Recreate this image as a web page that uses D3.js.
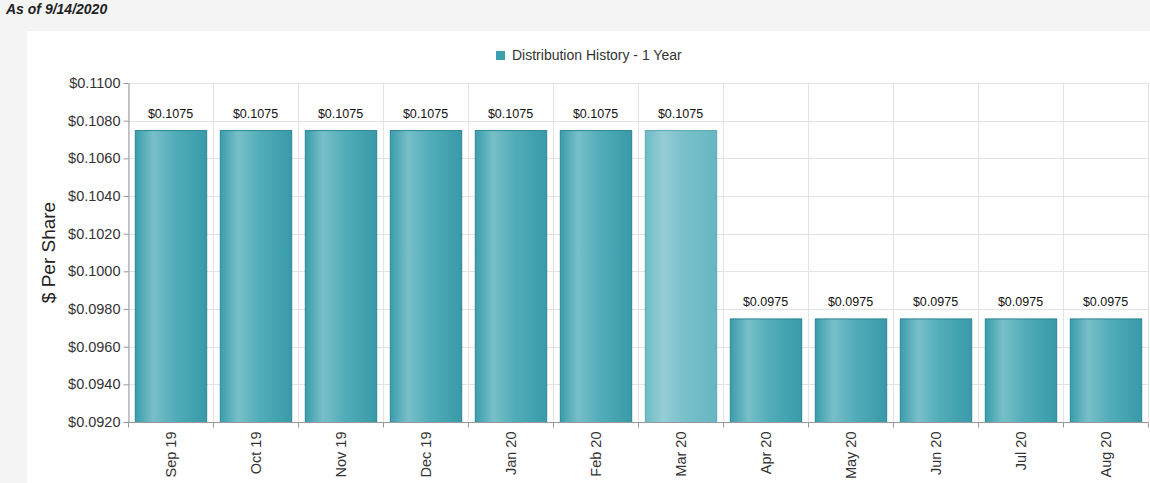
<!DOCTYPE html>
<html>
<head>
<meta charset="utf-8">
<script src="https://cdn.jsdelivr.net/npm/d3@7"></script>
<style>
  body { margin: 0; background: #f4f4f4; font-family: Arial, "Liberation Sans", sans-serif; }
  #title { position: absolute; left: 6px; top: 1px; font-size: 14px; font-weight: bold; font-style: italic; color: #222; }
  #chart { position: absolute; left: 27px; top: 31px; width: 1123px; height: 452px; background: #fff; }
</style>
</head>
<body>
<div id="title">As of 9/14/2020</div>
<div id="chart"></div>
<script>
// Data
var months = ["Sep 19", "Oct 19", "Nov 19", "Dec 19", "Jan 20", "Feb 20", "Mar 20", "Apr 20", "May 20", "Jun 20", "Jul 20", "Aug 20"];
var distribution = [0.1075, 0.1075, 0.1075, 0.1075, 0.1075, 0.1075, 0.1075, 0.0975, 0.0975, 0.0975, 0.0975, 0.0975];
var yTicks = [0.0920, 0.0940, 0.0960, 0.0980, 0.1000, 0.1020, 0.1040, 0.1060, 0.1080, 0.1100];
var highlighted = "Mar 20";

var width = 1123, height = 452;
var margin = {top: 52, right: 2, bottom: 61, left: 101};

var svg = d3.select("#chart").append("svg")
    .attr("width", width)
    .attr("height", height);

// gradients for the cylinder look
var defs = svg.append("defs");
function addGradient(id, stops) {
    var g = defs.append("linearGradient").attr("id", id)
        .attr("x1", "0%").attr("x2", "100%").attr("y1", "0%").attr("y2", "0%");
    stops.forEach(function(s) {
        g.append("stop").attr("offset", s[0]).attr("stop-color", s[1]);
    });
}
addGradient("barGrad", [["0%", "#3a9dac"], ["25%", "#78bfc8"], ["55%", "#52adb9"], ["100%", "#389aa9"]]);
addGradient("barGradHi", [["0%", "#6cbbc6"], ["25%", "#96cdd5"], ["55%", "#78c0ca"], ["100%", "#66b7c2"]]);

var x = d3.scaleBand()
    .domain(months)
    .range([margin.left, width - margin.right])
    .paddingInner(0.16)
    .paddingOuter(0.08);

var y = d3.scaleLinear()
    .domain([0.0920, 0.1100])
    .range([height - margin.bottom, margin.top]);

var fmt = function(d) { return "$" + d3.format(".4f")(d); };

// grid
var step = x.step();
var edges = months.map(function(m) { return x(m) - x.paddingOuter() * step; });
edges.push(width - margin.right);

svg.append("g").selectAll("line.h")
    .data(yTicks)
  .enter().append("line")
    .attr("x1", margin.left).attr("x2", width - margin.right)
    .attr("y1", function(d) { return Math.round(y(d)) + 0.5; })
    .attr("y2", function(d) { return Math.round(y(d)) + 0.5; })
    .attr("stroke", "#e3e3e3");

svg.append("g").selectAll("line.v")
    .data(edges)
  .enter().append("line")
    .attr("x1", function(d) { return Math.round(d) + 0.5; })
    .attr("x2", function(d) { return Math.round(d) + 0.5; })
    .attr("y1", margin.top).attr("y2", height - margin.bottom)
    .attr("stroke", "#e3e3e3");

// y axis
var yAxis = svg.append("g")
    .attr("transform", "translate(" + (margin.left + 0.5) + ",0)")
    .call(d3.axisLeft(y).tickValues(yTicks).tickFormat(fmt).tickSize(5).tickSizeOuter(0));
yAxis.select(".domain").attr("stroke", "#999");
yAxis.selectAll(".tick line").attr("stroke", "#999");
yAxis.selectAll("text").attr("font-size", 14.5).attr("fill", "#333").attr("font-family", "Arial, Liberation Sans, sans-serif");

svg.append("text")
    .attr("transform", "translate(28," + (y(0.1010)) + ") rotate(-90)")
    .attr("text-anchor", "middle")
    .attr("font-size", 19)
    .attr("fill", "#222")
    .text("$ Per Share");

// bars
svg.append("g").selectAll("rect")
    .data(months)
  .enter().append("rect")
    .attr("x", function(d) { return x(d) + 0.5; })
    .attr("width", x.bandwidth())
    .attr("y", function(d, i) { return y(distribution[i]) + 0.5; })
    .attr("height", function(d, i) { return y(0.0920) - y(distribution[i]); })
    .attr("fill", function(d) { return d === highlighted ? "url(#barGradHi)" : "url(#barGrad)"; })
    .attr("stroke", function(d) { return d === highlighted ? "#5aa9b5" : "#2b8592"; })
    .attr("stroke-width", 1);

// value labels
svg.append("g").selectAll("text")
    .data(months)
  .enter().append("text")
    .attr("x", function(d) { return x(d) + x.bandwidth() / 2; })
    .attr("y", function(d, i) { return y(distribution[i]) - 12; })
    .attr("text-anchor", "middle")
    .attr("font-size", 12.5)
    .attr("fill", "#111")
    .text(function(d, i) { return fmt(distribution[i]); });

// x axis
var xAxisG = svg.append("g")
    .attr("transform", "translate(0," + (height - margin.bottom + 0.5) + ")");
xAxisG.append("line")
    .attr("x1", margin.left).attr("x2", width - margin.right)
    .attr("stroke", "#999");
xAxisG.selectAll("line.tk")
    .data(edges)
  .enter().append("line")
    .attr("x1", function(d) { return Math.round(d) + 0.5; })
    .attr("x2", function(d) { return Math.round(d) + 0.5; })
    .attr("y1", 0).attr("y2", 5)
    .attr("stroke", "#999");
xAxisG.selectAll("text")
    .data(months)
  .enter().append("text")
    .attr("transform", function(d) { return "translate(" + (x(d) + x.bandwidth() / 2 + 5) + ",9) rotate(-90)"; })
    .attr("text-anchor", "end")
    .attr("font-size", 14.5)
    .attr("fill", "#333")
    .text(function(d) { return d; });

// legend
var legend = svg.append("g").attr("transform", "translate(469,20)");
legend.append("rect").attr("width", 9).attr("height", 9).attr("fill", "#3a9fae");
legend.append("text").attr("x", 16).attr("y", 9)
    .attr("font-size", 14).attr("fill", "#333")
    .text("Distribution History - 1 Year");
</script>
</body>
</html>
